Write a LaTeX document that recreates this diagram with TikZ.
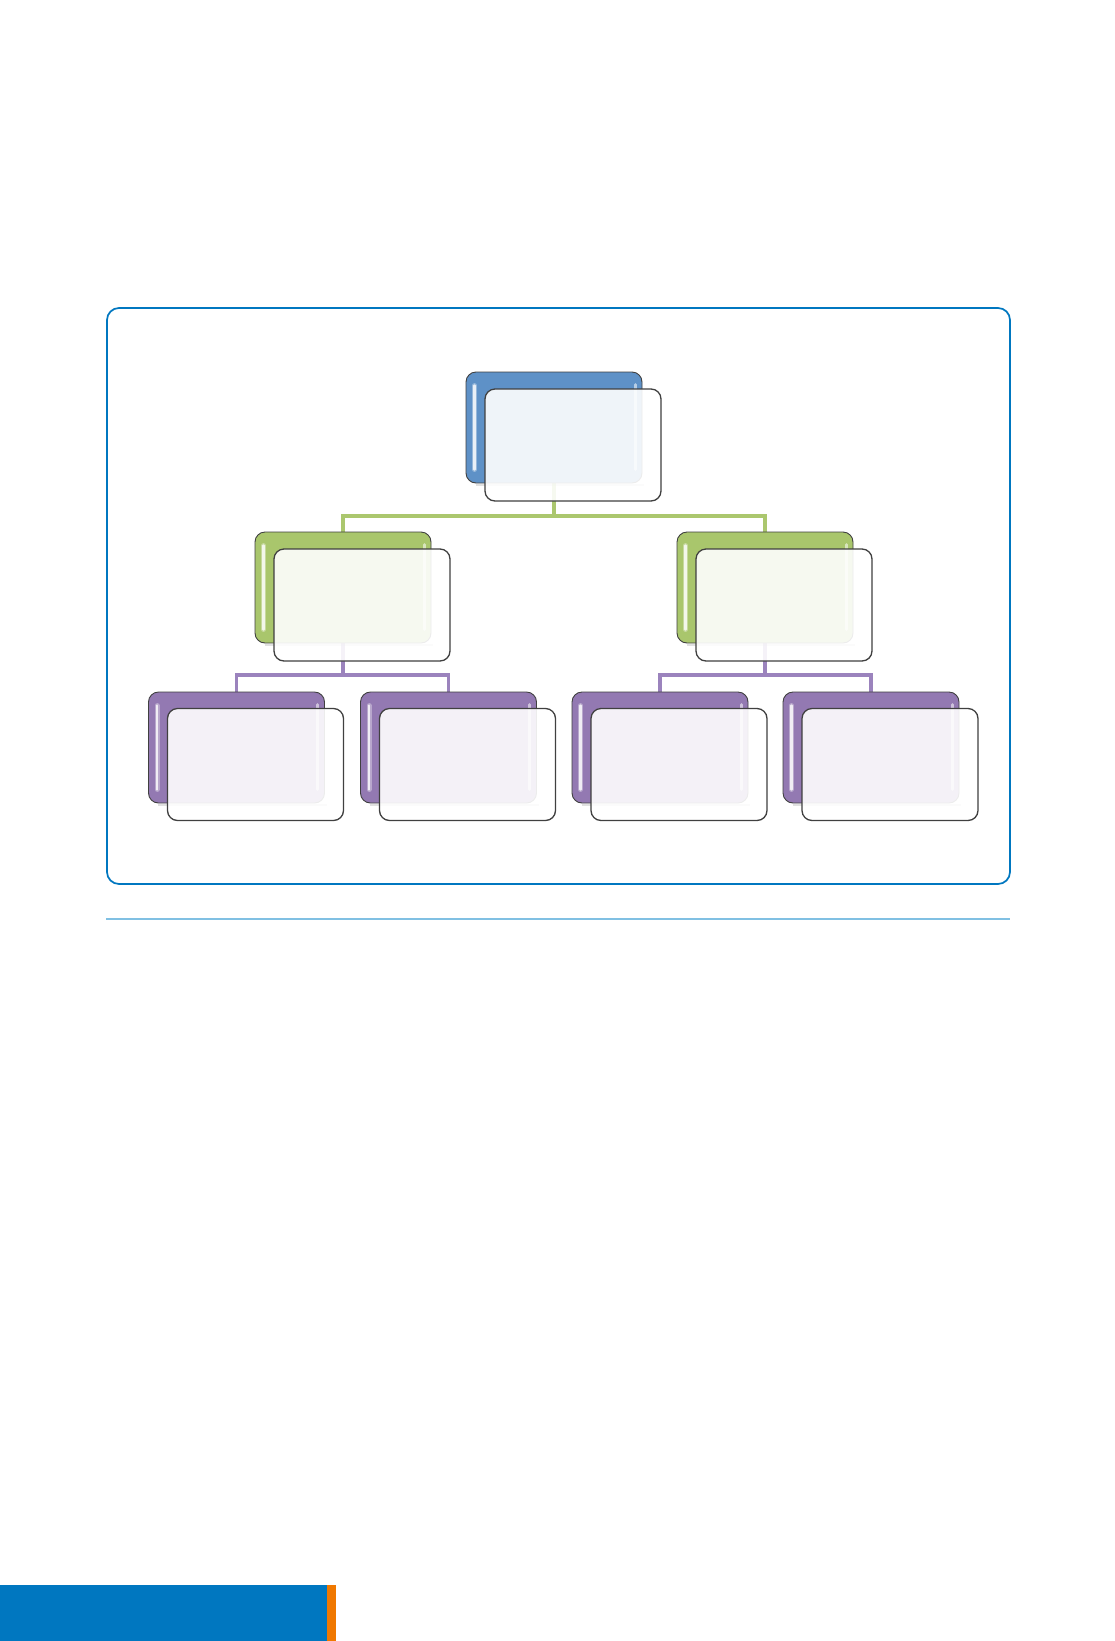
\documentclass[tikz,border=0pt]{standalone}
\usetikzlibrary{calc}
\definecolor{frameblue}{RGB}{0,119,192}
\definecolor{seplight}{RGB}{128,192,227}
\definecolor{barorange}{RGB}{240,120,0}
\definecolor{bkblue}{RGB}{94,145,199}
\definecolor{bkgreen}{RGB}{169,198,108}
\definecolor{bkpurple}{RGB}{147,121,178}
\definecolor{lngreen}{RGB}{171,199,110}
\definecolor{lnpurple}{RGB}{155,131,189}
\definecolor{edge}{RGB}{64,64,64}
\tikzset{
  backbox/.style={rectangle, rounded corners=10pt, minimum width=176pt, minimum height=111pt, inner sep=0pt, draw=edge, line width=0.9pt},
  frontbox/.style={rectangle, rounded corners=10pt, minimum width=176pt, minimum height=112pt, inner sep=0pt, draw=edge, line width=1.3pt, fill=white, fill opacity=0.9, draw opacity=1},
  glosswide/.style={white, line width=5pt, line cap=round, opacity=0.35},
  gloss/.style={white, line width=2.5pt, line cap=round, opacity=0.8},
  glossthin/.style={white, line width=3pt, line cap=round, opacity=0.55},
  shade/.style={black, opacity=0.12, line width=2pt},
  gline/.style={lngreen, line width=3.2pt},
  pline/.style={lnpurple, line width=3.2pt},
}
\newcommand{\glossy}[1]{%
  \draw[shade] ([shift={(2,2)}]#1.south west) ++(8,0) -- ([shift={(2,2)}]#1.south east);
  \draw[glosswide] ([shift={(9,14)}]#1.north west) -- ([shift={(9,-14)}]#1.south west);
  \draw[gloss] ([shift={(9,14)}]#1.north west) -- ([shift={(9,-14)}]#1.south west);
  \draw[glossthin] ([shift={(-7,13)}]#1.north east) -- ([shift={(-7,-14)}]#1.south east);
}
\begin{document}
\begin{tikzpicture}[x=1pt,y=-1pt]
\useasboundingbox (0,0) rectangle (1115,1641);
\fill[white] (0,0) rectangle (1115,1641);
% frame
\draw[frameblue, line width=1.7pt, rounded corners=12pt] (107,308) rectangle (1010,884);
\draw[seplight, line width=1.5pt] (106,919) -- (1010,919);
% bottom bar
\fill[frameblue] (0,1585) rectangle (327,1641);
\fill[barorange] (327,1585) rectangle (336,1641);
% junction coordinates
\coordinate (j1) at (554,516);
\coordinate (j2) at (343,675);
\coordinate (j3) at (765,675);
% box positions
\path (554,427.5) coordinate (p1);
\path (343,587.5) coordinate (p2);
\path (765,587.5) coordinate (p3);
\path (236.5,747.5) coordinate (p4);
\path (448.5,747.5) coordinate (p5);
\path (660,747.5) coordinate (p6);
\path (871,747.5) coordinate (p7);
% invisible placeholders so the connectors lie under the boxes
\path (p1) node[backbox, draw=none] (s1) {};
\path (p2) node[backbox, draw=none] (s2) {};
\path (p3) node[backbox, draw=none] (s3) {};
\path (p4) node[backbox, draw=none] (s4) {};
\path (p5) node[backbox, draw=none] (s5) {};
\path (p6) node[backbox, draw=none] (s6) {};
\path (p7) node[backbox, draw=none] (s7) {};
\draw[gline] (s1.south) -- (j1);
\draw[gline] (j1) -| (s2.north);
\draw[gline] (j1) -| (s3.north);
\draw[pline] (s2.south) -- (j2);
\draw[pline] (j2) -| (s4.north);
\draw[pline] (j2) -| (s5.north);
\draw[pline] (s3.south) -- (j3);
\draw[pline] (j3) -| (s6.north);
\draw[pline] (j3) -| (s7.north);
% back boxes
\node[backbox, fill=bkblue] (b1) at (p1) {};
\node[backbox, fill=bkgreen] (b2) at (p2) {};
\node[backbox, fill=bkgreen] (b3) at (p3) {};
\node[backbox, fill=bkpurple] (b4) at (p4) {};
\node[backbox, fill=bkpurple] (b5) at (p5) {};
\node[backbox, fill=bkpurple] (b6) at (p6) {};
\node[backbox, fill=bkpurple] (b7) at (p7) {};
\foreach \n in {b1,b2,b3,b4,b5,b6,b7} {\glossy{\n}}
% front boxes
\node[frontbox] (f1) at ([shift={(19,17.5)}]b1.center) {};
\node[frontbox] (f2) at ([shift={(19,17.5)}]b2.center) {};
\node[frontbox] (f3) at ([shift={(19,17.5)}]b3.center) {};
\node[frontbox] (f4) at ([shift={(19,17)}]b4.center) {};
\node[frontbox] (f5) at ([shift={(19,17)}]b5.center) {};
\node[frontbox] (f6) at ([shift={(19,17)}]b6.center) {};
\node[frontbox] (f7) at ([shift={(19,17)}]b7.center) {};
\end{tikzpicture}
\end{document}
